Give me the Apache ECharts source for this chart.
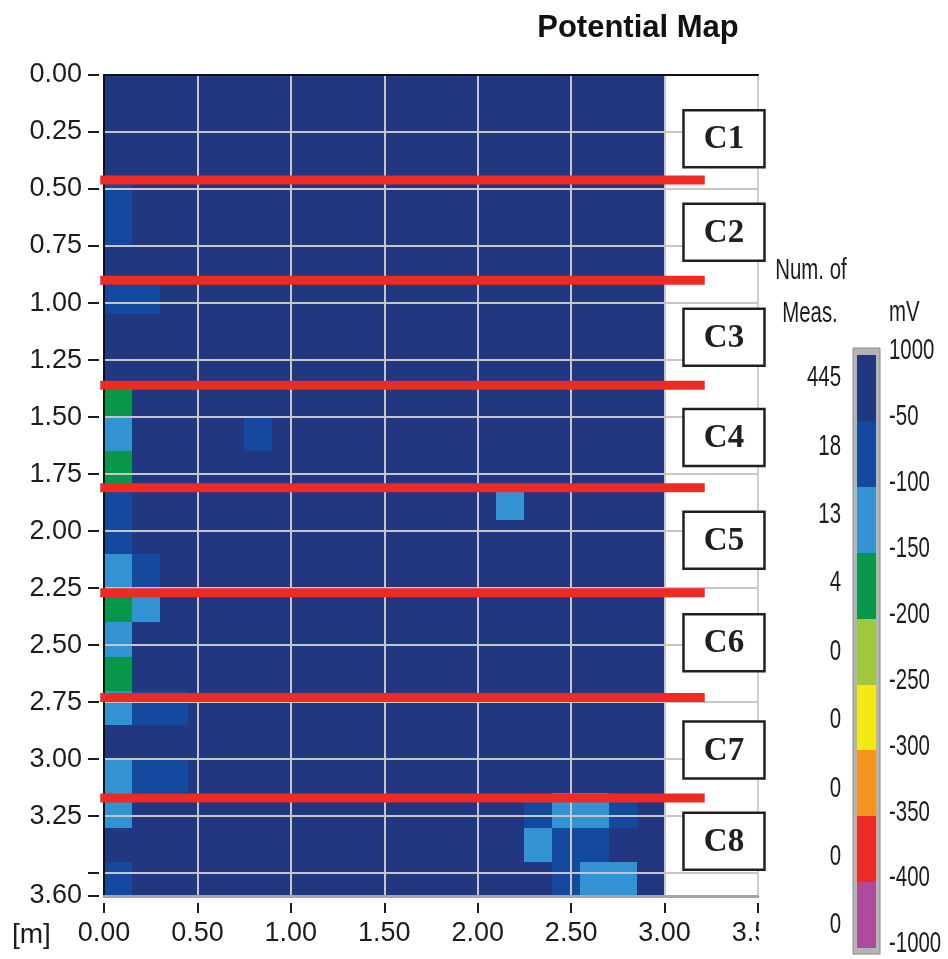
<!DOCTYPE html>
<html>
<head>
<meta charset="utf-8">
<title>Potential Map</title>
<script src="https://cdn.jsdelivr.net/npm/echarts@6/dist/echarts.min.js"></script>
<style>
  html, body { margin: 0; padding: 0; background: #ffffff; }
  #chart { width: 948px; height: 959px; }
</style>
</head>
<body>
<div id="chart"></div>
<script>
// Lower edges of the measurement cells (metres)
const cellX = [0.00, 0.15, 0.30, 0.45, 0.60, 0.75, 0.90, 1.05, 1.20, 1.35,
               1.50, 1.65, 1.80, 1.95, 2.10, 2.25, 2.40, 2.55, 2.70, 2.85];
const cellY = [0.00, 0.15, 0.30, 0.45, 0.60, 0.75, 0.90, 1.05, 1.20, 1.35, 1.50, 1.65,
               1.80, 1.95, 2.10, 2.25, 2.40, 2.55, 2.70, 2.85, 3.00, 3.15, 3.30, 3.45];
const CELL = 0.15;

// Half-cell potential per cell (mV), one row per cellY entry, one column per cellX entry
const potentialRows = [
  [ -25, -25, -25, -25, -25, -25, -25, -25, -25, -25, -25, -25, -25, -25, -25, -25, -25, -25, -25, -25],
  [ -25, -25, -25, -25, -25, -25, -25, -25, -25, -25, -25, -25, -25, -25, -25, -25, -25, -25, -25, -25],
  [ -25, -25, -25, -25, -25, -25, -25, -25, -25, -25, -25, -25, -25, -25, -25, -25, -25, -25, -25, -25],
  [ -75, -25, -25, -25, -25, -25, -25, -25, -25, -25, -25, -25, -25, -25, -25, -25, -25, -25, -25, -25],
  [ -75, -25, -25, -25, -25, -25, -25, -25, -25, -25, -25, -25, -25, -25, -25, -25, -25, -25, -25, -25],
  [ -25, -25, -25, -25, -25, -25, -25, -25, -25, -25, -25, -25, -25, -25, -25, -25, -25, -25, -25, -25],
  [ -75, -75, -25, -25, -25, -25, -25, -25, -25, -25, -25, -25, -25, -25, -25, -25, -25, -25, -25, -25],
  [ -25, -25, -25, -25, -25, -25, -25, -25, -25, -25, -25, -25, -25, -25, -25, -25, -25, -25, -25, -25],
  [ -25, -25, -25, -25, -25, -25, -25, -25, -25, -25, -25, -25, -25, -25, -25, -25, -25, -25, -25, -25],
  [-175, -25, -25, -25, -25, -25, -25, -25, -25, -25, -25, -25, -25, -25, -25, -25, -25, -25, -25, -25],
  [-125, -25, -25, -25, -25, -75, -25, -25, -25, -25, -25, -25, -25, -25, -25, -25, -25, -25, -25, -25],
  [-175, -25, -25, -25, -25, -25, -25, -25, -25, -25, -25, -25, -25, -25, -25, -25, -25, -25, -25, -25],
  [ -75, -25, -25, -25, -25, -25, -25, -25, -25, -25, -25, -25, -25, -25,-125, -25, -25, -25, -25, -25],
  [ -75, -25, -25, -25, -25, -25, -25, -25, -25, -25, -25, -25, -25, -25, -25, -25, -25, -25, -25, -25],
  [-125, -75, -25, -25, -25, -25, -25, -25, -25, -25, -25, -25, -25, -25, -25, -25, -25, -25, -25, -25],
  [-175,-125, -25, -25, -25, -25, -25, -25, -25, -25, -25, -25, -25, -25, -25, -25, -25, -25, -25, -25],
  [-125, -25, -25, -25, -25, -25, -25, -25, -25, -25, -25, -25, -25, -25, -25, -25, -25, -25, -25, -25],
  [-175, -25, -25, -25, -25, -25, -25, -25, -25, -25, -25, -25, -25, -25, -25, -25, -25, -25, -25, -25],
  [-125, -75, -75, -25, -25, -25, -25, -25, -25, -25, -25, -25, -25, -25, -25, -25, -25, -25, -25, -25],
  [ -25, -25, -25, -25, -25, -25, -25, -25, -25, -25, -25, -25, -25, -25, -25, -25, -25, -25, -25, -25],
  [-125, -75, -75, -25, -25, -25, -25, -25, -25, -25, -25, -25, -25, -25, -25, -25, -25, -25, -25, -25],
  [-125, -25, -25, -25, -25, -25, -25, -25, -25, -25, -25, -25, -25, -25, -25, -75,-125,-125, -75, -25],
  [ -25, -25, -25, -25, -25, -25, -25, -25, -25, -25, -25, -25, -25, -25, -25,-125, -75, -75, -25, -25],
  [ -75, -25, -25, -25, -25, -25, -25, -25, -25, -25, -25, -25, -25, -25, -25, -25, -75,-125,-125, -25]
];

// Colour classes (mV), from the top of the scale down
const mvBreaks = [1000, -50, -100, -150, -200, -250, -300, -350, -400, -1000];
const binColors = ['#213780', '#134a9f', '#3393d2', '#07964a', '#a0c83c',
                   '#f5e914', '#f5951f', '#ec2b24', '#ad4c9c'];

// Zone boundaries along the scan and the zone labels (metres)
const zoneBoundaries = [0.46, 0.90, 1.36, 1.81, 2.27, 2.73, 3.17];
const zoneSpan = [-0.02, 3.215];
const zoneNames = ['C1', 'C2', 'C3', 'C4', 'C5', 'C6', 'C7', 'C8'];
const zoneCenters = [0.28, 0.69, 1.15, 1.59, 2.04, 2.49, 2.96, 3.36];
const zoneLabelX = 3.318;

// ---- build series data ----
const cells = [];
potentialRows.forEach((row, r) => {
  row.forEach((mv, c) => cells.push([cellX[c], cellY[r], mv]));
});

const pieces = binColors.map((color, i) => ({ gt: mvBreaks[i + 1], lte: mvBreaks[i], color }));

// number of cells falling in each colour class
const classCounts = binColors.map((_, i) => {
  const hi = mvBreaks[i], lo = mvBreaks[i + 1];
  return cells.filter(d => d[2] <= hi && d[2] > lo).length;
});

const TEXT = '#1c1c1c';
const axisFont = { fontFamily: 'Liberation Sans', fontSize: 27, color: TEXT };

// ---- legend (colour bar with class counts) ----
const barX = 857, barW = 19, barTop = 355, segH = 65.9;
const legendEls = [];
legendEls.push({
  type: 'rect', z: 100,
  shape: { x: barX - 4, y: barTop - 7, width: barW + 8, height: segH * binColors.length + 13 },
  style: { fill: '#b4b4b4', stroke: '#8c8c8c', lineWidth: 1 }
});
binColors.forEach((col, i) => {
  legendEls.push({
    type: 'rect', z: 101,
    shape: { x: barX, y: Math.round(barTop + i * segH), width: barW,
             height: Math.round(barTop + (i + 1) * segH) - Math.round(barTop + i * segH) },
    style: { fill: col }
  });
});
function narrowText(text, x, y, align) {
  return {
    type: 'text', z: 102, x: x, y: y, scaleX: 0.68,
    style: {
      text: text, x: 0, y: 0, fill: TEXT,
      font: '30px "Liberation Sans"',
      align: align, verticalAlign: 'middle',
      textAlign: align, textVerticalAlign: 'middle'
    }
  };
}
mvBreaks.forEach((v, i) => {
  legendEls.push(narrowText(String(v), 889, barTop + i * segH - 4, 'left'));
});
classCounts.forEach((n, i) => {
  legendEls.push(narrowText(String(n), 841, 378 + i * 68.4, 'right'));
});
legendEls.push(narrowText('Num. of', 811, 271, 'center'));
legendEls.push(narrowText('Meas.', 810, 314, 'center'));
legendEls.push(narrowText('mV', 889, 313, 'left'));

const chart = echarts.init(document.getElementById('chart'), null, { renderer: 'canvas' });

chart.setOption({
  animation: false,
  backgroundColor: '#ffffff',
  grid: { left: 104, top: 75, width: 654, height: 821, containLabel: false },
  xAxis: [
    {
      type: 'value', position: 'bottom', offset: 7, min: 0, max: 3.5, interval: 0.5, z: 10,
      axisLine: { show: false, onZero: false },
      axisTick: { show: true, length: 10, lineStyle: { color: TEXT, width: 2 } },
      axisLabel: Object.assign({ margin: 17, showMaxLabel: true, showMinLabel: true,
        formatter: v => v.toFixed(2) }, axisFont),
      splitLine: { show: true, lineStyle: { color: '#c6c6c6', width: 2 } }
    },
    {
      type: 'value', position: 'top', min: 0, max: 3.5, z: 11,
      axisLine: { show: true, onZero: false, lineStyle: { color: '#111111', width: 2 } },
      axisTick: { show: false }, axisLabel: { show: false }, splitLine: { show: false }
    },
    {
      type: 'value', position: 'bottom', offset: 0, min: 0, max: 3.5, z: 11,
      axisLine: { show: true, onZero: false, lineStyle: { color: '#a6a6a6', width: 3 } },
      axisTick: { show: false }, axisLabel: { show: false }, splitLine: { show: false }
    }
  ],
  yAxis: [
    {
      type: 'value', position: 'left', offset: 5, inverse: true, min: 0, max: 3.6, interval: 0.25, z: 10,
      axisLine: { show: false, onZero: false },
      axisTick: { show: true, length: 11, lineStyle: { color: TEXT, width: 2 } },
      axisLabel: Object.assign({ margin: 17, showMaxLabel: true, showMinLabel: true,
        formatter: v => (Math.abs(v - 3.5) < 1e-9 ? '' : v.toFixed(2)) }, axisFont),
      splitLine: { show: true, lineStyle: { color: '#c6c6c6', width: 2 } }
    },
    {
      type: 'value', position: 'left', offset: 0, inverse: true, min: 0, max: 3.6, z: 11,
      axisLine: { show: true, onZero: false, lineStyle: { color: '#111111', width: 2 } },
      axisTick: { show: false }, axisLabel: { show: false }, splitLine: { show: false }
    },
    {
      type: 'value', position: 'right', offset: 0, inverse: true, min: 0, max: 3.6, z: 11,
      axisLine: { show: true, onZero: false, lineStyle: { color: '#cfcfcf', width: 2 } },
      axisTick: { show: false }, axisLabel: { show: false }, splitLine: { show: false }
    }
  ],
  visualMap: {
    type: 'piecewise', show: false, dimension: 2, seriesIndex: 0, pieces: pieces
  },
  series: [
    {
      // potential cells, snapped to whole pixels so neighbouring cells meet without seams
      type: 'custom', name: 'potential', xAxisIndex: 0, yAxisIndex: 0, z: 2,
      dimensions: ['x', 'y', 'mV'],
      encode: { x: 0, y: 1 },
      data: cells,
      renderItem: function (params, api) {
        const x0 = api.value(0), y0 = api.value(1);
        const a = api.coord([x0, y0]);
        const b = api.coord([x0 + CELL, y0 + CELL]);
        const left = Math.round(Math.min(a[0], b[0])), right = Math.round(Math.max(a[0], b[0]));
        const top = Math.round(Math.min(a[1], b[1])), bottom = Math.round(Math.max(a[1], b[1]));
        return {
          type: 'rect',
          shape: { x: left, y: top, width: right - left, height: bottom - top },
          style: { fill: api.visual('color') }
        };
      }
    },
    {
      // zone boundary lines
      type: 'custom', name: 'zones', xAxisIndex: 0, yAxisIndex: 0, z: 20,
      encode: { y: 0 },
      data: zoneBoundaries.map(y => [y]),
      renderItem: function (params, api) {
        const y = api.value(0);
        const a = api.coord([zoneSpan[0], y]);
        const b = api.coord([zoneSpan[1], y]);
        return {
          type: 'line',
          shape: { x1: a[0], y1: a[1], x2: b[0], y2: b[1] },
          style: { stroke: '#ee2a24', lineWidth: 9 }
        };
      }
    },
    {
      // zone labels
      type: 'custom', name: 'zoneLabels', xAxisIndex: 0, yAxisIndex: 0, z: 21,
      encode: { y: 0 },
      data: zoneCenters.map(y => [y]),
      renderItem: function (params, api) {
        const p = api.coord([zoneLabelX, api.value(0)]);
        const w = 81, h = 57;
        return {
          type: 'group',
          children: [
            {
              type: 'rect',
              shape: { x: p[0] - w / 2, y: p[1] - h / 2, width: w, height: h },
              style: { fill: '#ffffff', stroke: '#231f20', lineWidth: 2.5 }
            },
            {
              type: 'text',
              style: {
                text: zoneNames[params.dataIndex], x: p[0], y: p[1] + 1,
                fill: '#231f20', font: 'bold 33px "Liberation Serif"',
                align: 'center', verticalAlign: 'middle'
              }
            }
          ]
        };
      }
    }
  ],
  graphic: {
    elements: [
      {
        type: 'text', z: 100, x: 638, y: 28,
        style: {
          text: 'Potential Map', x: 0, y: 0, fill: '#111111',
          font: 'bold 31px "Liberation Sans"',
          align: 'center', verticalAlign: 'middle',
          textAlign: 'center', textVerticalAlign: 'middle'
        }
      },
      {
        type: 'text', z: 100, x: 12, y: 935,
        style: {
          text: '[m]', x: 0, y: 0, fill: TEXT,
          font: '28px "Liberation Sans"',
          align: 'left', verticalAlign: 'middle',
          textAlign: 'left', textVerticalAlign: 'middle'
        }
      },
      {
        // right-hand edge of the x labels is cut by the legend panel
        type: 'rect', z: 99,
        shape: { x: 759, y: 914, width: 60, height: 45 },
        style: { fill: '#ffffff' }
      }
    ].concat(legendEls)
  }
});
</script>
</body>
</html>
